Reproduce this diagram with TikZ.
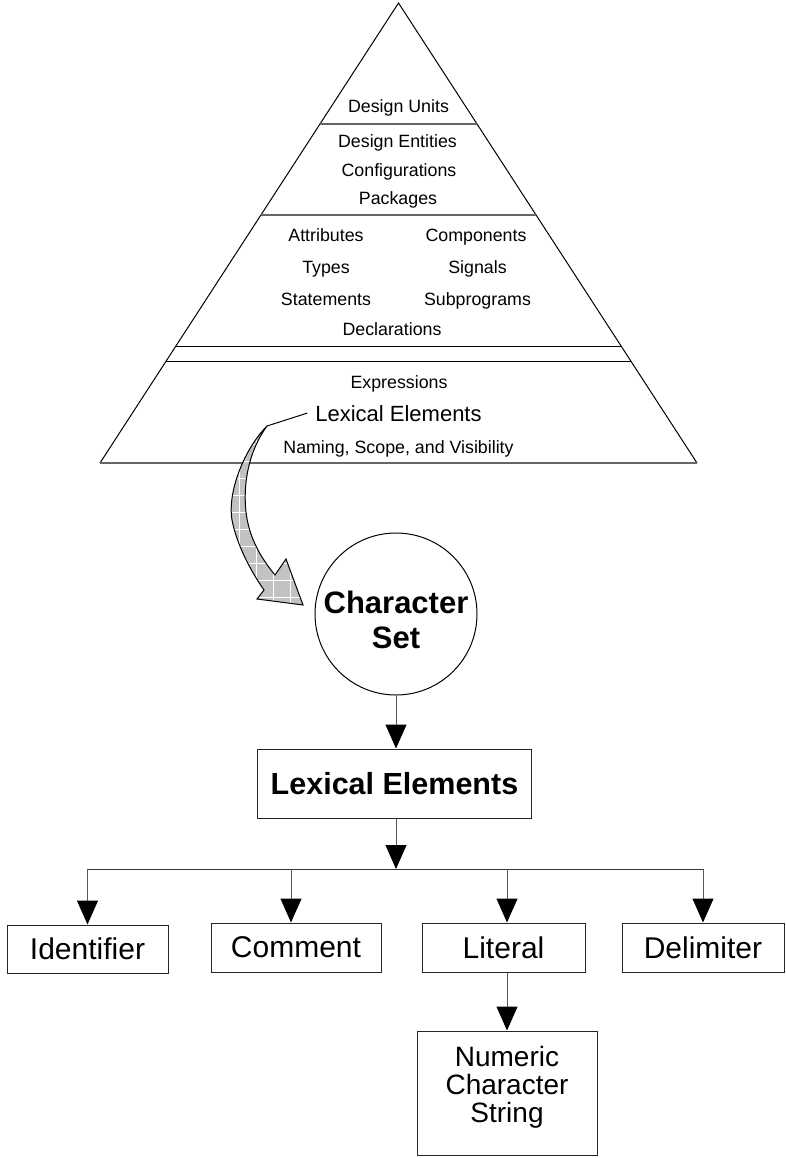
\documentclass[tikz,border=0pt]{standalone}
\usepackage{fontspec}
\setmainfont{Liberation Sans}
\usetikzlibrary{arrows.meta,calc}

% outline of the broad curved arrow leaving the pyramid
\newcommand\lexband{(267,426) .. controls (246,447) and (227,490) .. (232,520)
  .. controls (237,546) and (252,573) .. (264,590) -- (257,599) -- (303,605)
  -- (286,559) -- (275,575) .. controls (261,558) and (249,538) .. (246,512)
  .. controls (243,485) and (248,452) .. (267,426) -- cycle}

\begin{document}
\begin{tikzpicture}[x=1pt,y=-1pt,
  every node/.style={inner sep=0pt},
  pyr/.style={font=\fontsize{17.8}{21}\selectfont, anchor=base},
  edge/.style={draw=black, line width=1pt},
  tier/.style={draw=black!60, line width=1.4pt},
  box/.style={draw=black!85, line width=1pt, font=\fontsize{30}{34}\selectfont},
  conn/.style={draw=black!65, line width=1pt,
    -{Triangle[width=21pt,length=24pt,color=black]}},
  bus/.style={draw=black!80, line width=1pt}]

\path[use as bounding box] (0,0) rectangle (785,1158);

% ---- pyramid ----
\coordinate (apex) at (398.5,3);
\coordinate (bl) at (100,463);
\coordinate (br) at (697,463);
\draw[edge] (bl) -- (apex) -- (br);
\draw[tier] (bl) -- (br);
\draw[tier] ($(apex)!0.2630!(bl)$) -- ($(apex)!0.2630!(br)$);
\draw[tier] ($(apex)!0.4609!(bl)$) -- ($(apex)!0.4609!(br)$);
\draw[edge] ($(apex)!0.7478!(bl)$) -- ($(apex)!0.7478!(br)$);
\draw[edge] ($(apex)!0.7783!(bl)$) -- ($(apex)!0.7783!(br)$);

\node[pyr] (du)  at (398.5,113) {Design Units};
\node[pyr] (de)  at (397.5,148) {Design Entities};
\node[pyr] (cf)  at (399,177) {Configurations};
\node[pyr] (pk)  at (398,205) {Packages};
\node[pyr] (at)  at (326,242) {Attributes};
\node[pyr] (cp)  at (476,242) {Components};
\node[pyr] (ty)  at (326,273) {Types};
\node[pyr] (sg)  at (477.5,273) {Signals};
\node[pyr] (st)  at (326,305) {Statements};
\node[pyr] (sp)  at (477.5,305) {Subprograms};
\node[pyr] (dc)  at (392,335) {Declarations};
\node[pyr] (ex)  at (399,388) {Expressions};
\node[pyr, font=\fontsize{22}{26}\selectfont] (lexp) at (398.5,421) {Lexical Elements};
\node[pyr] (nm)  at (398.5,453) {Naming, Scope, and Visibility};

% ---- curved arrow from the pyramid to the character set ----
\coordinate (bandtop) at (267,426);
\draw[black, line width=1pt] ([xshift=-8pt]lexp.west) -- (bandtop);
\begin{scope}
  \clip \lexband;
  \fill[black!24] (220,420) rectangle (310,610);
  \foreach \g in {0,...,6} \draw[white, line width=0.9pt] (222+17*\g,420) -- (222+17*\g,610);
  \foreach \g in {0,...,11} \draw[white, line width=0.9pt] (220,427+17*\g) -- (310,427+17*\g);
\end{scope}
\draw[black, line width=1pt, line join=miter] \lexband;

% ---- character set ----
\node[circle, draw=black, line width=1pt, minimum size=162pt] (charset) at (396,614) {};
\node[align=center, font=\bfseries\fontsize{31}{35}\selectfont] (cstext) at (396,619.5) {Character\\Set};

% ---- lexical elements hierarchy ----
\node[box, font=\bfseries\fontsize{30.5}{34}\selectfont, minimum width=274pt, minimum height=69pt] (lexbox) at (394.5,783.5) {Lexical Elements};
\node[box, minimum width=161pt, minimum height=48pt] (ident)   at (87.5,949)   {Identifier};
\node[box, minimum width=170pt, minimum height=49pt] (comment) at (296,947.5)  {Comment};
\node[box, minimum width=163pt, minimum height=49pt] (literal) at (503.5,947.5) {Literal};
\node[box, minimum width=162pt, minimum height=49pt] (delim)   at (703,947.5)  {Delimiter};
\node[box, minimum width=180pt, minimum height=124pt] (numeric) at (507,1093) {};
\node[align=center, font=\fontsize{28}{28}\selectfont] (numtext) at (507,1087.5) {Numeric\\Character\\String};

\draw[conn] (charset.south) -- (charset.south |- lexbox.north);

\coordinate (busL) at (87.5,869);
\coordinate (busC) at (291,869);
\coordinate (busT) at (507,869);
\coordinate (busR) at (703,869);
\coordinate (busM) at (396,869);
\draw[bus] (busL) -- (busR);
\draw[conn] (lexbox.south -| busM) -- (busM);
\draw[conn] (busL) -- (busL |- ident.north);
\draw[conn] (busC) -- (busC |- comment.north);
\draw[conn] (busT) -- (busT |- literal.north);
\draw[conn] (busR) -- (busR |- delim.north);
\draw[conn] (literal.south -| numeric.north) -- (numeric.north);

\end{tikzpicture}
\end{document}
